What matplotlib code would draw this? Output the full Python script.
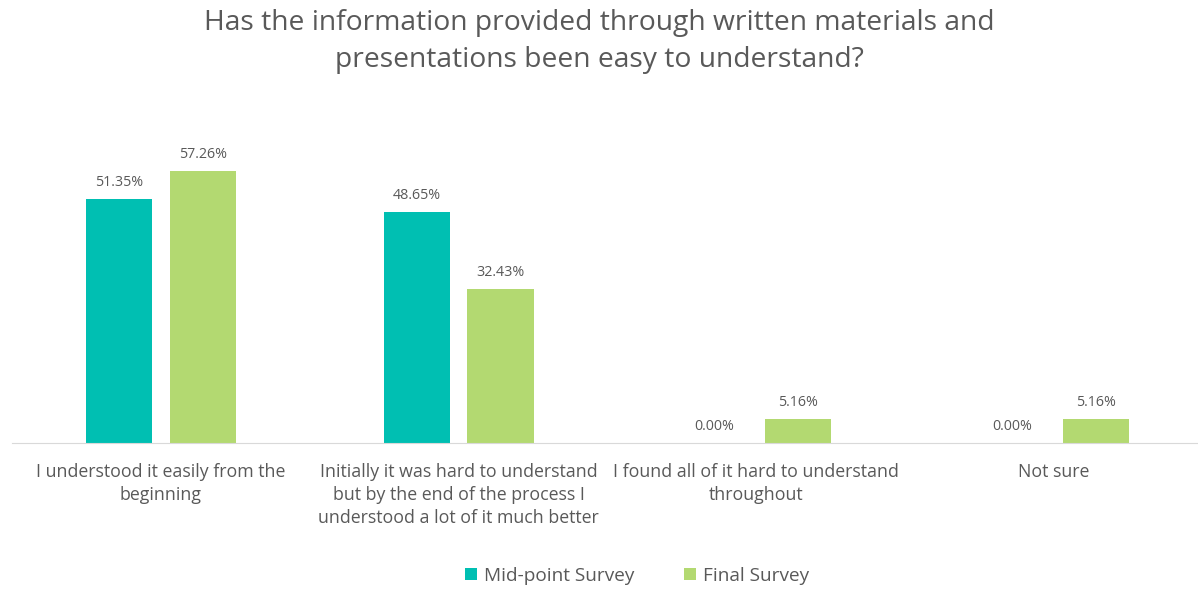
import matplotlib.pyplot as plt
import numpy as np

plt.rcParams['font.family'] = ['Open Sans', 'DejaVu Sans']

categorias = ['I understood it easily from the\nbeginning',
              'Initially it was hard to understand\nbut by the end of the process I\nunderstood a lot of it much better',
              'I found all of it hard to understand\nthroughout',
              'Not sure']
mid_point = [51.35, 48.65, 0.00, 0.00]
final = [57.26, 32.43, 5.16, 5.16]
series = ['Mid-point Survey', 'Final Survey']

gris = '#595959'
teal = '#00BFB2'
verde = '#B3D971'

fig = plt.figure(figsize=(11.98, 5.90), dpi=100)
ax = fig.add_axes([0.010, 0.249, 0.994, 0.58])

x = np.arange(len(categorias))
ancho = 0.222
b1 = ax.bar(x - 0.141, mid_point, ancho, color=teal, label=series[0])
b2 = ax.bar(x + 0.141, final, ancho, color=verde, label=series[1])

# etiquetas de datos
for barras in (b1, b2):
    for b in barras:
        ax.text(b.get_x() + b.get_width() / 2, b.get_height() + 1.9,
                f'{b.get_height():.2f}%', ha='center', va='bottom',
                fontsize=10.3, color=gris)

ax.set_xlim(-0.5, len(categorias) - 0.5)
ax.set_ylim(0, 72)
ax.set_yticks([])
ax.set_xticks(x)
ax.set_xticklabels(categorias, fontsize=12.8, color=gris, linespacing=1.36, va='top')
ax.tick_params(axis='x', length=0, pad=14)
for s in ['top', 'right', 'left']:
    ax.spines[s].set_visible(False)
ax.spines['bottom'].set_color('#d9d9d9')

fig.text(0.5, 0.985, 'Has the information provided through written materials and\npresentations been easy to understand?',
         ha='center', va='top', fontsize=20.3, color=gris, linespacing=1.45)

fig.legend(loc='center', bbox_to_anchor=(0.532, 0.024), ncol=2, frameon=False,
           fontsize=13.7, labelcolor=gris, handlelength=0.6, handleheight=0.6,
           columnspacing=2.6, handletextpad=0.4)

plt.savefig('out.png', dpi=100)
